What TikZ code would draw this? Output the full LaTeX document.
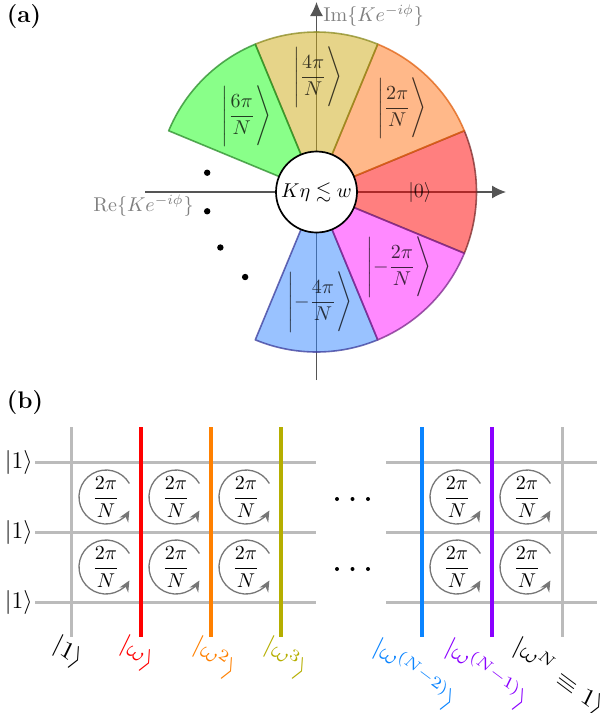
\documentclass[tikz,border=0pt]{standalone}
\usepackage{amsmath,amssymb}
\usetikzlibrary{arrows.meta,calc}
\definecolor{axisgray}{HTML}{555555}
\definecolor{labgray}{HTML}{7F7F7F}
\definecolor{gridgray}{HTML}{BBBBBB}
\definecolor{cycgray}{HTML}{777777}
% sector colours
\definecolor{fred}{HTML}{FF0000}
\definecolor{dred}{HTML}{7A2A2A}
\definecolor{forange}{HTML}{FF7214}
\definecolor{dorange}{HTML}{E06010}
\definecolor{fyellow}{HTML}{CDAA14}
\definecolor{dyellow}{HTML}{8A8A20}
\definecolor{fgreen}{HTML}{14FF14}
\definecolor{dgreen}{HTML}{2A8A2A}
\definecolor{fblue}{HTML}{3385FF}
\definecolor{dblue}{HTML}{3A3A9A}
\definecolor{fmag}{HTML}{FF14FF}
\definecolor{dmag}{HTML}{7A2A8A}
% grid line colours
\definecolor{lred}{HTML}{FF0000}
\definecolor{lorange}{HTML}{FF8000}
\definecolor{lolive}{HTML}{B5AE00}
\definecolor{lblue}{HTML}{0A84FF}
\definecolor{lpurple}{HTML}{8A00FF}
\begin{document}
\begin{tikzpicture}[x=0.5pt,y=0.5pt,
  axisline/.style={draw=axisgray,line width=0.65pt,-{Latex[length=7pt,width=6.5pt]}},
  axislab/.style={text=labgray,inner sep=0pt},
  sectorpath/.style={fill opacity=0.5,draw opacity=0.75,line width=0.8pt,line join=round},
  sectorlab/.style={text opacity=0.75,inner sep=0pt},
  panel/.style={font=\large\bfseries,inner sep=0pt},
  gridline/.style={draw=gridgray,line width=1.5pt},
  wire/.style={line width=1.6pt},
  cyc/.style={draw=cycgray,line width=0.65pt,-{Stealth[length=5.5pt,width=5pt]}},
  ketlab/.style={font=\large,inner sep=0pt},
  botlab/.style={font=\large,inner sep=0pt,cm={0.95,-0.71,0.438,0.899,(0,0)},anchor=north west},
  dotmark/.style={fill=black}
]
\useasboundingbox (0,0) rectangle (611,-713);

% ---------------- panel (a) ----------------
\node[panel] (pa) at (24,-17) {(a)};
\coordinate (C) at (316.5,-192);
\coordinate (xs) at (145,-192);
\coordinate (xe) at (506,-192);
\coordinate (ys) at (316.5,-380);
\coordinate (ye) at (316.5,-2);
\draw[axisline] (xs) -- (xe);
\draw[axisline] (ys) -- (ye);
\node[axislab,anchor=west] (imlab) at (323,-16) {$\mathrm{Im}\{Ke^{-i\phi}\}$};
\node[axislab,anchor=east] (relab) at (194,-206) {$\mathrm{Re}\{Ke^{-i\phi}\}$};

\foreach \a/\b/\fc/\dc in {-22.5/22.5/fred/dred, 22.5/67.5/forange/dorange, 67.5/112.5/fyellow/dyellow, 112.5/157.5/fgreen/dgreen, 247.5/292.5/fblue/dblue, 292.5/337.5/fmag/dmag}{
  \path[sectorpath,fill=\fc,draw=\dc] (C) -- ($(C)+(\a:160)$) arc[start angle=\a,end angle=\b,radius=160] -- cycle;
}

\node[sectorlab] (s0) at (420,-192) {$|0\rangle$};
\node[sectorlab] (s1) at (402,-108) {$\Biggl|\dfrac{2\pi}{N}\Biggr\rangle$};
\node[sectorlab] (s2) at (318,-77) {$\Biggl|\dfrac{4\pi}{N}\Biggr\rangle$};
\node[sectorlab] (s3) at (246.5,-116) {$\Biggl|\dfrac{6\pi}{N}\Biggr\rangle$};
\node[sectorlab] (s4) at (399,-267) {$\Biggl|-\dfrac{2\pi}{N}\Biggr\rangle$};
\node[sectorlab] (s5) at (320,-302) {$\Biggl|-\dfrac{4\pi}{N}\Biggr\rangle$};

\node[circle,draw=black,fill=white,line width=0.85pt,minimum size=40.5pt,inner sep=0pt] (core) at (C) {$K\eta\lesssim w$};

\foreach \t in {170,190,210,230}{
  \fill[dotmark] ($(C)+(\t:111)$) circle[radius=3.2];
}

% ---------------- panel (b) ----------------
\node[panel] (pb) at (25,-403) {(b)};

% horizontal wires
\foreach \y in {462,532,602}{
  \draw[gridline] (35,-\y) -- (316,-\y);
  \draw[gridline] (386,-\y) -- (597,-\y);
  \node[ketlab,anchor=east] at (33,-\y) {$|1\rangle$};
}
% vertical lines
\draw[gridline] (71,-427) -- (71,-637);
\draw[wire,draw=lred] (141,-427) -- (141,-637);
\draw[wire,draw=lorange] (211,-427) -- (211,-637);
\draw[wire,draw=lolive] (281,-427) -- (281,-637);
\draw[wire,draw=lblue] (422,-427) -- (422,-637);
\draw[wire,draw=lpurple] (492,-427) -- (492,-637);
\draw[gridline] (562,-427) -- (562,-637);

% plaquettes
\foreach \x in {106,176,246,457,527}{
  \foreach \y in {497,567}{
    \draw[cyc] ($(\x,-\y)+(30:27)$) arc[start angle=30,end angle=330,radius=27];
    \node[inner sep=0pt] at (\x,-\y) {$\dfrac{2\pi}{N}$};
  }
}
% dots
\foreach \y in {499,569}{
  \foreach \x in {337,352.5,368}{
    \fill[dotmark] (\x,-\y) circle[radius=2];
  }
}

% bottom labels
\node[botlab] (k0) at (60,-632) {$|1\rangle$};
\node[botlab,text=lred] (k1) at (127,-632) {$|\omega\rangle$};
\node[botlab,text=lorange] (k2) at (201,-632) {$|\omega^2\rangle$};
\node[botlab,text=lolive] (k3) at (272,-632) {$|\omega^3\rangle$};
\node[botlab,text=lblue] (k4) at (381,-632) {$|\omega^{(N-2)}\rangle$};
\node[botlab,text=lpurple] (k5) at (453,-632) {$|\omega^{(N-1)}\rangle$};
\node[botlab] (k6) at (521,-632) {$|\omega^N\equiv 1\rangle$};
\end{tikzpicture}
\end{document}
